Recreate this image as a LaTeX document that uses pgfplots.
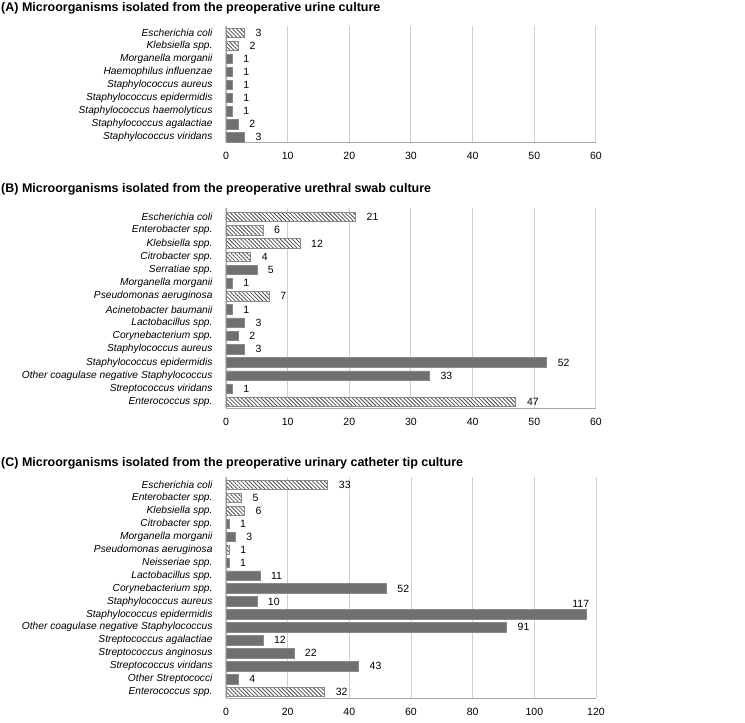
\documentclass[border=0pt]{standalone}
\usepackage{fontspec}
\setmainfont{Liberation Sans}
\usepackage{pgfplots}
\usepackage{pgfplotstable}
\pgfplotsset{compat=1.18}
\usetikzlibrary{patterns.meta}
\definecolor{barsolid}{HTML}{707070}
\definecolor{baredge}{HTML}{8A8A8A}
\definecolor{hatchline}{HTML}{4A4A4A}
\definecolor{gridc}{HTML}{CFCFCF}
\definecolor{axisc}{HTML}{A8A8A8}

% Panel A
\pgfplotstableread{
y x
1 3
2 2
}\Aneg
\pgfplotstableread{
y x
3 1
4 1
5 1
6 1
7 1
8 2
9 3
}\Apos
% Panel B
\pgfplotstableread{
y x
1 21
2 6
3 12
4 4
7 7
15 47
}\Bneg
\pgfplotstableread{
y x
5 5
6 1
8 1
9 3
10 2
11 3
12 52
13 33
14 1
}\Bpos
% Panel C
\pgfplotstableread{
y x
1 33
2 5
3 6
6 1
17 32
}\Cneg
\pgfplotstableread{
y x
4 1
5 3
7 1
8 11
9 52
10 10
12 91
13 12
14 22
15 43
16 4
}\Cpos
\pgfplotstableread{
y x
11 117
}\Cpostop

\pgfplotsset{
  panel/.style={
    xbar, scale only axis, width=370pt,
    y dir=reverse, xmin=0, enlargelimits=false,
    axis x line*=bottom, axis y line*=left,
    axis line style={axisc, line width=0.8pt},
    xmajorgrids, major grid style={gridc, line width=1pt},
    major tick length=0pt,
    bar width=9.5pt,
    /pgf/number format/assume math mode=true,
    yticklabel style={font=\itshape\fontsize{10.2}{12}\selectfont, xshift=-10pt},
    xticklabel style={font=\fontsize{10.5}{12}\selectfont, yshift=-7pt},
    nodes near coords,
    every node near coord/.append style={font=\fontsize{10.5}{12}\selectfont, xshift=7.5pt, text=black},
  },
  gneg/.style={bar shift=0pt, fill=white, draw=baredge, line width=0.7pt,
    postaction={pattern={Lines[angle=-45,distance=2.8pt,line width=0.8pt]}, pattern color=hatchline}},
  gpos/.style={bar shift=0pt, fill=barsolid, draw=baredge, line width=0.6pt},
}

\begin{document}
\begin{tikzpicture}
\useasboundingbox (0,0) rectangle (745pt,-723pt);

\node[anchor=west, font=\bfseries\fontsize{12.5}{14}\selectfont, inner sep=0pt] at (1pt,-8pt)
  {(A) Microorganisms isolated from the preoperative urine culture};
\node[anchor=west, font=\bfseries\fontsize{12.5}{14}\selectfont, inner sep=0pt] at (1pt,-189pt)
  {(B) Microorganisms isolated from the preoperative urethral swab culture};
\node[anchor=west, font=\bfseries\fontsize{12.5}{14}\selectfont, inner sep=0pt] at (1pt,-463pt)
  {(C) Microorganisms isolated from the preoperative urinary catheter tip culture};

% ---------- A
\begin{axis}[panel, at={(226pt,-142pt)}, anchor=south west,
  height=116pt, xmax=60, xtick={0,10,...,60},
  ymin=0.46, ymax=9.38, ytick={1,...,9},
  yticklabels={Escherichia coli, Klebsiella spp., Morganella morganii, Haemophilus influenzae,
    Staphylococcus aureus, Staphylococcus epidermidis, Staphylococcus haemolyticus,
    Staphylococcus agalactiae, Staphylococcus viridans}]
\addplot[gneg] table[x=x,y=y] {\Aneg};
\addplot[gpos] table[x=x,y=y] {\Apos};
\end{axis}

% ---------- B
\begin{axis}[panel, at={(226pt,-408pt)}, anchor=south west,
  height=200pt, xmax=60, xtick={0,10,...,60},
  ymin=0.32, ymax=15.45, ytick={1,...,15},
  yticklabels={Escherichia coli, Enterobacter spp., Klebsiella spp., Citrobacter spp.,
    Serratiae spp., Morganella morganii, Pseudomonas aeruginosa, Acinetobacter baumanii,
    Lactobacillus spp., Corynebacterium spp., Staphylococcus aureus, Staphylococcus epidermidis,
    Other coagulase negative Staphylococcus, Streptococcus viridans, Enterococcus spp.}]
\addplot[gneg] table[x=x,y=y] {\Bneg};
\addplot[gpos] table[x=x,y=y] {\Bpos};
\end{axis}

% ---------- C
\begin{axis}[panel, at={(226pt,-698pt)}, anchor=south west,
  height=221pt, xmax=120, xtick={0,20,...,120},
  ymin=0.38, ymax=17.46, ytick={1,...,17},
  yticklabels={Escherichia coli, Enterobacter spp., Klebsiella spp., Citrobacter spp.,
    Morganella morganii, Pseudomonas aeruginosa, Neisseriae spp., Lactobacillus spp.,
    Corynebacterium spp., Staphylococcus aureus, Staphylococcus epidermidis,
    Other coagulase negative Staphylococcus, Streptococcus agalactiae, Streptococcus anginosus,
    Streptococcus viridans, Other Streptococci, Enterococcus spp.}]
\addplot[gneg] table[x=x,y=y] {\Cneg};
\addplot[gpos] table[x=x,y=y] {\Cpos};
\addplot[gpos, every node near coord/.append style={anchor=south, xshift=-13.5pt, yshift=3pt}]
  table[x=x,y=y] {\Cpostop};
\end{axis}
\end{tikzpicture}
\end{document}
